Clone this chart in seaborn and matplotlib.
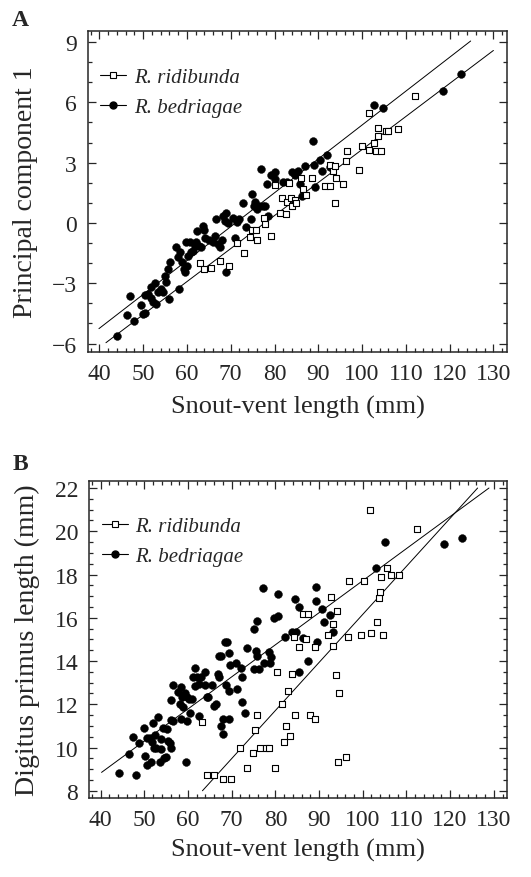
import numpy as np
import matplotlib
matplotlib.use("Agg")
import matplotlib.pyplot as plt
from matplotlib.lines import Line2D
from matplotlib.ticker import MultipleLocator
import seaborn as sns

# --- Panel A data: principal component 1 vs snout-vent length ---
a_rid_x = [62.9, 64.0, 65.5, 67.6, 69.6, 71.5, 73.1, 74.5, 74.9, 75.7, 76.0, 77.6, 77.9, 79.3,
           80.1, 81.2, 81.8, 82.6, 82.9, 83.2, 83.7, 84.0, 84.6, 84.9, 86.1, 86.4, 87.2, 88.5,
           91.6, 92.7, 92.7, 93.4, 93.8, 94.0, 93.8, 95.6, 96.3, 96.5, 99.4, 100.0, 101.5,
           101.6, 102.7, 103.1, 103.6, 103.7, 104.3, 105.4, 106.0, 108.1, 112.1]
a_rid_y = [-2.01, -2.3, -2.26, -1.88, -2.13, -1.02, -1.5, -0.69, -0.36, -0.33, -0.83, 0.25, -0.05, -0.63,
           1.89, 0.5, 1.24, 0.45, 1.05, 1.97, 1.24, 0.84, 1.12, 1.0, 2.24, 1.69, 1.39, 2.22,
           1.86, 1.86, 2.89, 2.6, 1.0, 2.24, 2.85, 1.94, 3.1, 3.6, 2.64, 3.85, 5.48,
           3.62, 3.98, 3.6, 4.32, 4.71, 3.57, 4.55, 4.56, 4.66, 6.31]

a_bed_x = [44.0, 46.3, 47.1, 47.9, 49.6, 49.9, 50.5, 50.5, 51.2, 51.7, 51.9, 52.2, 52.8, 53.0,
           53.5, 54.0, 54.5, 55.1, 55.3, 55.6, 55.9, 56.2, 57.6, 58.0, 58.3, 58.5, 58.9, 59.3,
           59.5, 59.7, 60.0, 60.2, 60.6, 61.0, 61.4, 61.8, 62.1, 62.3, 62.7, 63.3, 63.7, 63.9,
           64.2, 65.0, 66.0, 66.3, 66.7, 67.1, 67.5, 67.9, 68.2, 68.8, 69.0, 69.0, 69.3, 70.5,
           71.0, 71.4, 71.8, 72.8, 73.5, 74.7, 74.9, 75.3, 75.6, 75.9, 76.5, 76.9, 77.4, 77.9,
           78.2, 78.4, 79.3, 80.1, 80.1, 82.0, 82.9, 84.1, 84.6, 85.3, 85.8, 86.2, 86.9, 88.8,
           89.1, 89.2, 90.4, 90.8, 92.1, 92.7, 102.7, 104.8, 118.4, 122.6]
a_bed_y = [-5.63, -4.59, -3.66, -4.87, -4.06, -4.54, -4.46, -3.59, -3.54, -3.2, -3.74, -3.91, -3.01, -4.04,
           -3.46, -3.3, -3.46, -2.66, -2.96, -2.3, -3.79, -1.96, -1.22, -1.71, -3.3, -1.46, -1.96, -2.3,
           -2.46, -0.97, -2.13, -1.63, -0.97, -1.46, -1.38, -1.13, -0.97, -0.4, -1.13, -1.22, -0.17, -0.33,
           -0.74, -0.83, -0.97, -0.63, 0.17, -1.05, -1.22, -0.83, 0.33, 0.08, 0.5, -2.43, 0.0, 0.25,
           -0.74, 0.03, 0.17, 1.0, -0.2, 0.17, 1.44, 0.86, 1.06, 0.7, 0.86, 2.69, 0.86, 0.86,
           1.92, 0.33, 2.36, 2.52, 2.19, 2.02, 2.02, 2.52, 2.36, 2.56, 1.94, 1.36, 2.85, 4.07,
           2.89, 1.78, 3.15, 2.56, 3.4, 2.77, 5.88, 5.71, 6.54, 7.42]

# fitted lines (end points)
a_rid_line_x = [41.5, 130.0]
a_rid_line_y = [-5.96, 8.58]
a_bed_line_x = [39.9, 124.8]
a_bed_line_y = [-5.26, 9.05]

# --- Panel B data: digitus primus length vs snout-vent length ---
b_rid_x = [63.2, 64.4, 65.9, 67.9, 69.9, 71.9, 73.5, 74.9, 75.3, 75.9, 76.5, 77.8, 78.5, 79.9,
           80.4, 81.6, 82.0, 82.4, 82.9, 83.3, 83.7, 84.2, 84.4, 85.3, 86.3, 86.9, 87.4, 87.9,
           89.0, 89.0, 92.0, 92.8, 93.1, 93.1, 93.8, 94.2, 94.3, 94.5, 96.1, 96.7, 96.8, 99.7,
           100.3, 101.6, 101.9, 103.3, 103.7, 104.0, 104.1, 104.6, 105.6, 106.4, 108.4, 112.5]
b_rid_y = [11.16, 8.74, 8.74, 8.54, 8.54, 10.0, 9.03, 9.73, 10.81, 11.5, 10.0, 10.0, 10.0, 9.03,
           13.5, 12.0, 10.24, 11.0, 12.6, 10.54, 13.4, 15.1, 11.5, 14.63, 16.17, 15.02, 16.17, 11.5,
           11.31, 14.63, 15.2, 16.97, 15.7, 14.68, 13.35, 16.3, 9.34, 12.52, 9.54, 15.1, 17.68, 15.2,
           17.68, 20.98, 15.28, 15.79, 16.9, 17.2, 17.9, 15.2, 18.3, 17.99, 17.99, 20.1]

b_bed_x = [44.2, 46.6, 47.4, 48.0, 48.8, 49.9, 50.1, 50.5, 50.7, 51.2, 51.6, 51.8, 52.0, 52.1,
           52.4, 52.6, 53.2, 53.5, 53.7, 53.8, 54.3, 54.5, 54.9, 55.3, 55.5, 55.9, 56.0, 56.2,
           56.2, 56.5, 56.5, 57.7, 58.1, 58.3, 58.5, 58.7, 58.9, 59.3, 59.6, 59.7, 59.8, 60.2,
           60.4, 61.0, 61.1, 61.5, 61.7, 62.1, 62.5, 62.6, 62.9, 63.8, 64.0, 64.3, 64.6, 65.4,
           65.9, 66.3, 66.9, 67.1, 67.2, 67.5, 67.6, 68.1, 68.1, 68.5, 68.8, 69.0, 69.3, 69.4,
           69.4, 69.5, 70.9, 71.3, 72.1, 72.3, 72.3, 73.1, 73.6, 75.1, 75.1, 75.5, 75.8, 75.9,
           76.3, 77.1, 77.4, 78.5, 78.8, 78.9, 79.7, 80.5, 80.5, 82.2, 83.7, 84.6, 84.8, 85.4,
           85.5, 86.3, 87.4, 89.2, 89.4, 89.6, 90.6, 91.1, 92.4, 93.2, 103.1, 105.2, 118.6, 122.8]
b_bed_y = [8.8, 9.7, 10.5, 8.73, 10.2, 10.9, 9.62, 10.42, 9.19, 10.42, 9.31, 10.24, 11.13, 10.0,
           10.6, 9.96, 11.42, 9.34, 10.4, 9.93, 10.9, 9.5, 9.54, 10.85, 10.3, 10.2, 10.0, 12.21,
           11.27, 12.89, 11.23, 12.55, 12.0, 11.3, 12.78, 12.32, 11.86, 12.5, 9.31, 11.23, 12.32, 12.24,
           11.6, 12.24, 13.28, 13.66, 12.86, 13.28, 12.93, 11.47, 13.24, 12.89, 13.47, 12.32, 12.32, 12.89,
           11.93, 12.0, 13.4, 13.24, 14.24, 11.0, 14.24, 10.62, 11.31, 14.89, 12.89, 14.86, 14.38, 12.6,
           11.31, 13.81, 13.9, 12.7, 13.66, 13.24, 12.12, 11.6, 14.6, 15.48, 13.63, 14.48, 15.86, 14.24,
           13.63, 17.37, 13.9, 14.4, 13.9, 14.17, 15.99, 16.1, 17.1, 15.09, 15.35, 16.87, 15.32, 13.5,
           16.48, 15.05, 14.0, 17.4, 16.79, 14.89, 16.4, 15.82, 16.13, 15.35, 18.3, 19.52, 19.41, 19.69]

b_rid_line_x = [63.3, 126.3]
b_rid_line_y = [8.0, 22.0]
b_bed_line_x = [40.2, 128.9]
b_bed_line_y = [8.85, 22.0]

x_label = "Snout-vent length (mm)"
legend_labels = ["R. ridibunda", "R. bedriagae"]

# --- Style ---
sns.set_style("ticks")
plt.rcParams['font.family'] = ['Liberation Serif', 'DejaVu Serif']

fig = plt.figure(figsize=(5.31, 8.78), dpi=100)
ax_a = fig.add_axes([0.1657, 0.598, 0.7891, 0.3656])
ax_b = fig.add_axes([0.1682, 0.0896, 0.7872, 0.3618])


def draw_panel(ax, rid_x, rid_y, bed_x, bed_y, rid_line, bed_line):
    sns.lineplot(x=rid_line[0], y=rid_line[1], ax=ax, color='black', linewidth=0.7, sort=False)
    sns.lineplot(x=bed_line[0], y=bed_line[1], ax=ax, color='black', linewidth=0.7, sort=False)
    sns.scatterplot(x=bed_x, y=bed_y, ax=ax, marker='o', color='black', edgecolor='black',
                    s=32, linewidth=0.3, zorder=3)
    sns.scatterplot(x=rid_x, y=rid_y, ax=ax, marker='s', facecolor='white', edgecolor='black',
                    s=18, linewidth=0.8, zorder=4)
    ax.set_xlim(37.4, 133.1)
    ax.xaxis.set_major_locator(MultipleLocator(10))
    ax.xaxis.set_minor_locator(MultipleLocator(2))
    ax.tick_params(which='both', direction='in', top=True, right=True, width=0.9)
    ax.tick_params(which='major', length=6, labelsize=17, pad=8)
    ax.tick_params(which='minor', length=3)
    for sp in ax.spines.values():
        sp.set_linewidth(1.1)
    ax.set_xlabel(x_label, fontsize=19)

    handles = [Line2D([], [], color='black', linewidth=0.8, marker='s', markerfacecolor='white',
                      markeredgecolor='black', markersize=4, markeredgewidth=0.8),
               Line2D([], [], color='black', linewidth=0.8, marker='o', markerfacecolor='black',
                      markeredgecolor='black', markersize=5)]
    ax.legend(handles, legend_labels, loc='upper left', frameon=False, handlelength=1.25,
              handletextpad=0.35, labelspacing=0.5, bbox_to_anchor=(-0.015, 0.945),
              prop={'family': 'Liberation Serif', 'style': 'italic', 'size': 15})


draw_panel(ax_a, a_rid_x, a_rid_y, a_bed_x, a_bed_y,
           (a_rid_line_x, a_rid_line_y), (a_bed_line_x, a_bed_line_y))
ax_a.set_ylim(-6.42, 9.55)
ax_a.yaxis.set_major_locator(MultipleLocator(3))
ax_a.yaxis.set_minor_locator(MultipleLocator(1))
ax_a.set_ylabel("Principal component 1", fontsize=20)
ax_a.yaxis.set_label_coords(-0.120, 0.5)
ax_a.xaxis.set_label_coords(0.5, -0.133)

draw_panel(ax_b, b_rid_x, b_rid_y, b_bed_x, b_bed_y,
           (b_rid_line_x, b_rid_line_y), (b_bed_line_x, b_bed_line_y))
ax_b.set_ylim(7.65, 22.34)
ax_b.yaxis.set_major_locator(MultipleLocator(2))
ax_b.yaxis.set_minor_locator(MultipleLocator(0.5))
ax_b.set_ylabel("Digitus primus length (mm)", fontsize=20)
ax_b.yaxis.set_label_coords(-0.118, 0.5)
ax_b.xaxis.set_label_coords(0.5, -0.125)

fig.text(20 / 531, 1 - 20 / 878, "A", fontsize=17, fontweight='bold', va='center', ha='center')
fig.text(20 / 531, 1 - 465 / 878, "B", fontsize=17, fontweight='bold', va='center', ha='center')

fig.savefig("out.png", dpi=100)
